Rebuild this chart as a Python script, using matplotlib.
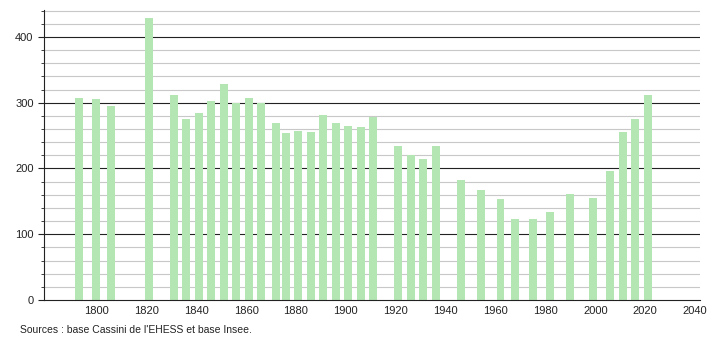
import matplotlib
matplotlib.use('Agg')
import matplotlib.pyplot as plt
import numpy as np

plt.rcParams['font.family'] = ['Liberation Sans', 'DejaVu Sans']

# Census years and population
years = [1793, 1800, 1806, 1821, 1831, 1836, 1841, 1846, 1851, 1856, 1861, 1866,
         1872, 1876, 1881, 1886, 1891, 1896, 1901, 1906, 1911, 1921, 1926, 1931,
         1936, 1946, 1954, 1962, 1968, 1975, 1982, 1990, 1999, 2006, 2011, 2016, 2021]
population = [307, 306, 295, 429, 312, 275, 284, 303, 329, 300, 307, 300,
              269, 254, 257, 256, 281, 269, 265, 263, 279, 234, 220, 214,
              234, 183, 167, 153, 123, 123, 134, 161, 155, 196, 256, 275, 312]
x_ticks = [1800, 1820, 1840, 1860, 1880, 1900, 1920, 1940, 1960, 1980, 2000, 2020, 2040]
y_ticks = [0, 100, 200, 300, 400]
source_text = "Sources : base Cassini de l'EHESS et base Insee."

fig = plt.figure(figsize=(7.1, 3.4), dpi=100)
ax = fig.add_axes([0.062, 0.1176, 0.924, 0.853])

# gridlines: light gray every 20, black every 100
for v in range(20, 441, 20):
    if v % 100 == 0:
        ax.axhline(v, color='#222222', lw=0.8, zorder=1)
    else:
        ax.axhline(v, color='#c8c8c8', lw=0.8, zorder=1)

ax.bar(years, population, width=3.2, color='#b4e6b4', zorder=2)

ax.set_xlim(1779, 2042)
ax.set_ylim(0, 441)
ax.set_xticks(x_ticks)
ax.set_yticks(y_ticks)
ax.set_yticks(range(0, 441, 20), minor=True)
ax.tick_params(axis='x', length=0, labelsize=8, colors='#222222', pad=4)
ax.tick_params(axis='y', which='major', length=4, labelsize=8, colors='#222222')
ax.tick_params(axis='y', which='minor', length=2, color='#222222')

for s in ['top', 'right']:
    ax.spines[s].set_visible(False)
ax.spines['left'].set_color('#222222')
ax.spines['bottom'].set_color('#222222')

fig.text(0.028, 0.022, source_text, fontsize=7.5, color='#222222')

plt.savefig('out.png', dpi=100)
